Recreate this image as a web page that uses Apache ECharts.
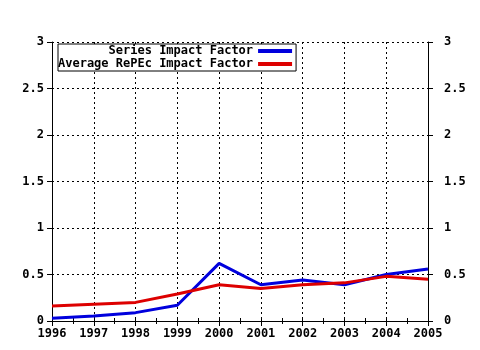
<!DOCTYPE html>
<html style="height: 100%">

<head>
    <meta charset="utf-8">
</head>

<body style="height: 100%; margin: 0; background: #fff">
    <div id="container" style="width: 480px; height: 350px"></div>
    <script type="text/javascript" src="https://cdn.jsdelivr.net/npm/echarts@6/dist/echarts.min.js"></script>
    <script type="text/javascript">

        var years = [1996, 1997, 1998, 1999, 2000, 2001, 2002, 2003, 2004, 2005];
        var seriesIF = [0.03, 0.055, 0.09, 0.17, 0.62, 0.39, 0.44, 0.39, 0.50, 0.56];
        var averageIF = [0.16, 0.18, 0.20, 0.29, 0.39, 0.35, 0.39, 0.41, 0.48, 0.45];
        var seriesNames = ['Series Impact Factor', 'Average RePEc Impact Factor'];

        function pairs(vals) {
            return years.map(function (y, i) { return [y, vals[i]]; });
        }

        var font = 'DejaVu Sans Mono';
        var dots = { color: '#000', width: 1, type: [2, 3] };

        var dom = document.getElementById("container");
        var myChart = echarts.init(dom);

        var option = {
            backgroundColor: '#fff',
            animation: false,
            textStyle: { fontFamily: font, fontWeight: 'bold', color: '#000' },
            grid: { left: 52, right: 52, top: 42, bottom: 29 },
            legend: {
                left: 58,
                top: 44,
                orient: 'vertical',
                align: 'right',
                padding: [1, 4, 1, 0],
                itemGap: 1,
                itemWidth: 34,
                itemHeight: 4,
                icon: 'rect',
                borderColor: '#000',
                borderWidth: 1,
                backgroundColor: '#fff',
                textStyle: { fontFamily: font, fontWeight: 'bold', fontSize: 12, color: '#000', width: 184, align: 'right', padding: [0, 0, 0, 0], lineHeight: 12 },
                data: seriesNames
            },
            xAxis: [{
                type: 'value',
                min: 1996,
                max: 2005,
                interval: 1,
                axisLine: { lineStyle: { color: '#000', width: 1 } },
                axisTick: { length: 5, lineStyle: { color: '#000' } },
                minorTick: { show: true, splitNumber: 2, length: 3, lineStyle: { color: '#000' } },
                splitLine: { show: true, lineStyle: dots },
                axisLabel: {
                    color: '#000', fontSize: 12, fontWeight: 'bold', fontFamily: font, margin: 7,
                    formatter: function (v) { return String(v); }
                }
            }, {
                type: 'value',
                position: 'top',
                min: 1996,
                max: 2005,
                interval: 1,
                axisLine: { show: true, lineStyle: { color: '#000', width: 1 } },
                axisTick: { length: 3, lineStyle: { color: '#000' } },
                minorTick: { show: true, splitNumber: 2, length: 3, lineStyle: { color: '#000' } },
                splitLine: { show: false },
                axisLabel: { show: false }
            }],
            yAxis: [{
                type: 'value',
                min: 0,
                max: 3,
                interval: 0.5,
                axisLine: { show: true, lineStyle: { color: '#000', width: 1 } },
                axisTick: { show: true, length: 5, lineStyle: { color: '#000' } },
                splitLine: { show: true, lineStyle: dots },
                axisLabel: { color: '#000', fontSize: 12, fontWeight: 'bold', fontFamily: font, margin: 8 }
            }, {
                type: 'value',
                position: 'right',
                min: 0,
                max: 3,
                interval: 0.5,
                axisLine: { show: true, lineStyle: { color: '#000', width: 1 } },
                axisTick: { show: true, length: 5, lineStyle: { color: '#000' } },
                splitLine: { show: false },
                axisLabel: { color: '#000', fontSize: 12, fontWeight: 'bold', fontFamily: font, margin: 16 }
            }],
            series: [{
                name: seriesNames[0],
                type: 'line',
                data: pairs(seriesIF),
                showSymbol: false,
                color: '#0000dd',
                lineStyle: { width: 3, color: '#0000dd' }
            }, {
                name: seriesNames[1],
                type: 'line',
                data: pairs(averageIF),
                showSymbol: false,
                color: '#dd0000',
                lineStyle: { width: 3, color: '#dd0000' }
            }]
        };

        myChart.setOption(option);
    </script>
</body>

</html>
